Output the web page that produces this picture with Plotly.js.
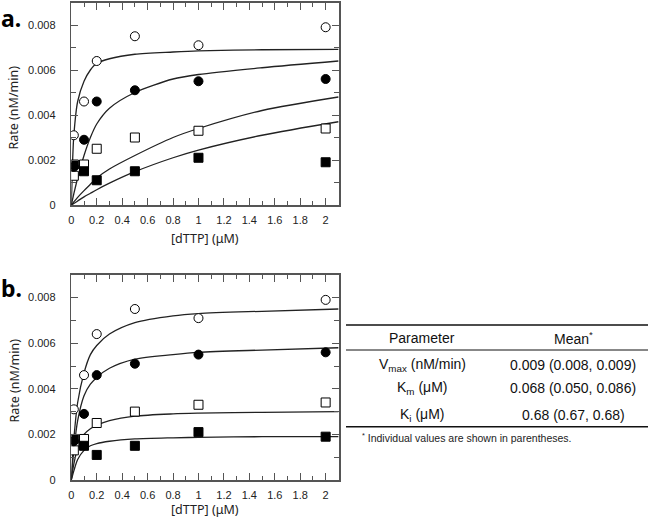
<!DOCTYPE html>
<html><head><meta charset="utf-8">
<script src="https://cdn.plot.ly/plotly-3.0.1.min.js"></script>
<style>html,body{margin:0;padding:0;background:#fff}#chart{width:650px;height:523px}</style>
</head><body><div id="chart"></div>
<script>
// measured data points (same data in both panels)
const dttp = [0.02, 0.1, 0.2, 0.5, 1, 2];
const openCircle   = [0.0031, 0.0046, 0.0064, 0.0075, 0.0071, 0.0079];
const filledCircle = [0.0017, 0.0029, 0.0046, 0.0051, 0.0055, 0.0056];
const openSquare   = [0.0013, 0.0018, 0.0025, 0.0030, 0.0033, 0.0034];
const filledSquare = [0.0018, 0.0015, 0.0011, 0.0015, 0.0021, 0.0019];

// fitted curves
const fitX = [0, 0.01, 0.02, 0.05, 0.1, 0.15, 0.2, 0.3, 0.5, 0.8, 1.0, 1.5, 2.1];
const fitA1 = [0, 0.0019, 0.0031, 0.0046, 0.0055, 0.0060, 0.0063, 0.0065, 0.0067, 0.0068, 0.00685, 0.0069, 0.00692];
const fitA2 = [0, 0.00025, 0.0005, 0.0012, 0.0022, 0.0030, 0.0036, 0.0043, 0.0050, 0.0056, 0.0058, 0.0061, 0.0064];
const fitA3 = [0, 0.00007, 0.00014, 0.00034, 0.00064, 0.00092, 0.0012, 0.0016, 0.0022, 0.0030, 0.0034, 0.0042, 0.0048];
const fitA4 = [0, 0.00004, 0.00007, 0.00018, 0.00036, 0.00052, 0.00068, 0.00097, 0.00148, 0.0021, 0.00244, 0.0031, 0.0037];
const fitB1 = [0, 0.0010, 0.0018, 0.0034, 0.0047, 0.0055, 0.0059, 0.0064, 0.0069, 0.0072, 0.0073, 0.0074, 0.0075];
const fitB2 = [0, 0.0007, 0.0013, 0.0026, 0.0037, 0.0042, 0.0045, 0.0049, 0.0053, 0.0055, 0.0056, 0.0057, 0.0058];
const fitB3 = [0, 0.0004, 0.0007, 0.0014, 0.0020, 0.00225, 0.0024, 0.0026, 0.0028, 0.0029, 0.00293, 0.00297, 0.0030];
const fitB4 = [0, 0.0002, 0.0004, 0.0009, 0.0013, 0.0015, 0.0016, 0.0017, 0.0018, 0.00185, 0.00187, 0.0019, 0.0019];

const xTickVals = [0, 0.2, 0.4, 0.6, 0.8, 1, 1.2, 1.4, 1.6, 1.8, 2];
const xTickText = ['0', '0.2', '0.4', '0.6', '0.8', '1', '1.2', '1.4', '1.6', '1.8', '2'];
const yTickVals = [0, 0.002, 0.004, 0.006, 0.008];
const yTickText = ['0', '0.002', '0.004', '0.006', '0.008'];

// table
const tableHeader = ['Parameter', 'Mean<sup>*</sup>'];
const tableParams = ['V<sub>max</sub> (nM/min)', 'K<sub>m</sub> (μM)', 'K<sub>i</sub> (μM)'];
const tableMeans = ['0.009 (0.008, 0.009)', '0.068 (0.050, 0.086)', '0.68 (0.67, 0.68)'];
const tableNote = '<sup>*</sup> Individual values are shown in parentheses.';

const W = 650, H = 523;
const px = v => v / W;
const py = v => 1 - v / H;

const frameColor = '#555';
const curveColor = '#222';

function markerTrace(y, symbol, xa, ya) {
  const open = symbol.indexOf('open') >= 0;
  return {
    x: dttp, y: y, xaxis: xa, yaxis: ya, type: 'scatter', mode: 'markers',
    marker: {
      symbol: open ? symbol.replace('-open', '') : symbol,
      size: 9,
      color: open ? '#fff' : '#000',
      line: {color: '#000', width: 1}
    },
    showlegend: false, hoverinfo: 'skip'
  };
}
function fitTrace(y, xa, ya) {
  return {
    x: fitX, y: y, xaxis: xa, yaxis: ya, type: 'scatter', mode: 'lines',
    line: {color: curveColor, width: 1.3, shape: 'spline', smoothing: 0.8},
    showlegend: false, hoverinfo: 'skip'
  };
}

const traces = [];
[['x', 'y', [fitA1, fitA2, fitA3, fitA4]], ['x2', 'y2', [fitB1, fitB2, fitB3, fitB4]]].forEach(([xa, ya, fits]) => {
  fits.forEach(f => traces.push(fitTrace(f, xa, ya)));
  traces.push(markerTrace(openCircle, 'circle-open', xa, ya));
  traces.push(markerTrace(openSquare, 'square-open', xa, ya));
  traces.push(markerTrace(filledCircle, 'circle', xa, ya));
  traces.push(markerTrace(filledSquare, 'square', xa, ya));
});

const tickFont = {family: 'Liberation Sans, Arial, sans-serif', size: 11, color: '#222'};
function xAxis(anchor, domain) {
  return {
    domain: domain, anchor: anchor, range: [0, 2.105],
    tickvals: xTickVals, ticktext: xTickText,
    ticks: 'inside', ticklen: 7, tickwidth: 1, tickcolor: frameColor,
    minor: {tickvals: [0.1, 0.3, 0.5, 0.7, 0.9, 1.1, 1.3, 1.5, 1.7, 1.9], ticks: 'inside', ticklen: 4, tickcolor: frameColor, tickwidth: 1},
    showline: true, linecolor: frameColor, linewidth: 1.5, mirror: 'ticks',
    showgrid: false, zeroline: false, tickfont: tickFont, ticklabelstandoff: 4,
    fixedrange: true
  };
}
function yAxis(anchor, domain) {
  return {
    domain: domain, anchor: anchor, range: [0, 0.009],
    tickvals: yTickVals, ticktext: yTickText,
    ticks: 'inside', ticklen: 7, tickwidth: 1, tickcolor: frameColor,
    minor: {tickvals: [0.001, 0.003, 0.005, 0.007, 0.009], ticks: 'inside', ticklen: 5, tickcolor: frameColor, tickwidth: 1},
    showline: true, linecolor: frameColor, linewidth: 1.5, mirror: 'ticks',
    showgrid: false, zeroline: false, tickfont: tickFont, ticklabelstandoff: 12,
    fixedrange: true
  };
}

const xDom = [px(71.3), px(339)];
const layout = {
  width: W, height: H,
  margin: {l: 0, r: 0, t: 0, b: 0},
  paper_bgcolor: '#fff', plot_bgcolor: '#fff',
  xaxis: xAxis('y', xDom),
  yaxis: yAxis('x', [py(205), py(2.5)]),
  xaxis2: xAxis('y2', xDom),
  yaxis2: yAxis('x2', [py(480), py(274.8)]),
  shapes: [],
  annotations: []
};

const titleFont = {family: 'Noto Sans, sans-serif', size: 12.5, color: '#222'};
const ann = (text, x, y, opts) => Object.assign({
  text: text, x: px(x), y: py(y), xref: 'paper', yref: 'paper',
  showarrow: false, xanchor: 'center', yanchor: 'middle'
}, opts || {});

// axis titles
layout.annotations.push(ann('Rate (nM/min)', 13.5, 108, {textangle: -90, font: titleFont}));
layout.annotations.push(ann('Rate (nM/min)', 13.5, 381, {textangle: -90, font: titleFont}));
layout.annotations.push(ann('[dTTP] (μM)', 205, 238.5, {font: titleFont}));
layout.annotations.push(ann('[dTTP] (μM)', 205, 509, {font: titleFont}));
// panel labels
const panelFont = {family: 'Noto Sans, sans-serif', size: 23, color: '#000', weight: 'bold'};
layout.annotations.push(ann('<b>a.</b>', -1, 0, {xanchor: 'left', yanchor: 'top', font: panelFont}));
layout.annotations.push(ann('<b>b.</b>', -1, 270, {xanchor: 'left', yanchor: 'top', font: panelFont}));

// table
const tFont = {family: 'Liberation Sans, Arial, sans-serif', size: 14, color: '#111'};
const colX = [422, 573];
const rowY = [365, 388.3, 415];
layout.annotations.push(ann(tableHeader[0], colX[0], 338.3, {font: tFont}));
layout.annotations.push(ann(tableHeader[1], colX[1], 338.3, {font: tFont}));
tableParams.forEach((p, i) => {
  layout.annotations.push(ann(p, colX[0], rowY[i], {font: tFont}));
  layout.annotations.push(ann(tableMeans[i], colX[1], rowY[i], {font: tFont}));
});
layout.annotations.push(ann(tableNote, 360, 437, {xanchor: 'left', font: {family: 'Liberation Sans, Arial, sans-serif', size: 10.5, color: '#222'}}));
const hline = (y, w) => ({type: 'line', xref: 'paper', yref: 'paper', x0: px(346), x1: px(648), y0: py(y), y1: py(y), line: {color: '#111', width: w}});
layout.shapes.push(hline(325, 1.6), hline(350, 1), hline(426.7, 1.6));

Plotly.newPlot('chart', traces, layout, {displayModeBar: false, staticPlot: true});
</script>
</body></html>
